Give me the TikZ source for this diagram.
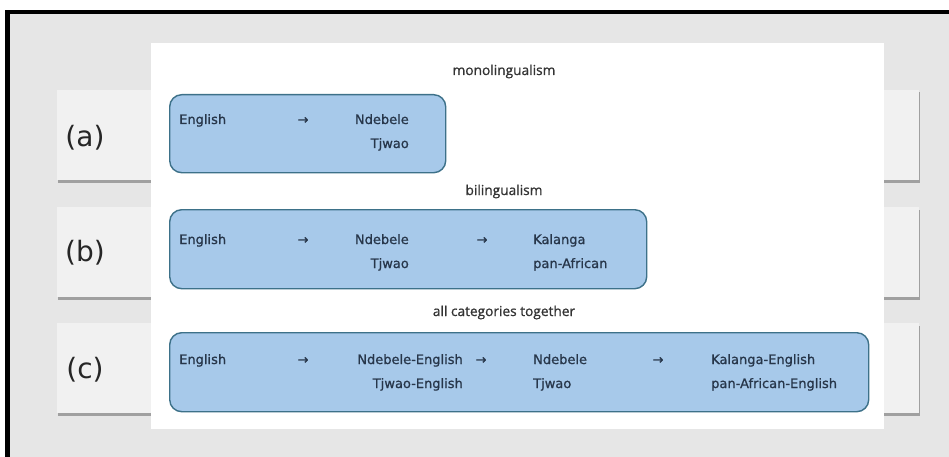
\documentclass[tikz,border=0pt]{standalone}
\usepackage{fontspec}
\setmainfont{DejaVu Sans}
\newfontfamily\langfont{DejaVu Sans}[FakeBold=0.9]
\newfontfamily\titlefont{Open Sans}[FakeBold=0.9]
\usetikzlibrary{calc,shadows}

\definecolor{boxfill}{HTML}{A7C9EA}
\definecolor{boxline}{HTML}{3D7189}
\definecolor{langtext}{HTML}{27364A}
\definecolor{bggray}{HTML}{E6E6E6}
\definecolor{cardgray}{HTML}{F1F1F1}

\tikzset{
  card/.style={fill=cardgray, anchor=north west, inner sep=0pt, outer sep=0pt,
    minimum width=862pt, minimum height=90pt,
    drop shadow={shadow xshift=1pt, shadow yshift=-2.5pt, fill=black, opacity=.3}},
  cardlabel/.style={font=\fontsize{28}{30}\selectfont, text=black!85, inner sep=0pt},
  panel/.style={fill=white, anchor=north west, inner sep=0pt, outer sep=0pt,
    minimum width=733pt, minimum height=386pt},
  langbox/.style={draw=boxline, fill=boxfill, line width=1.4pt, rounded corners=12pt,
    anchor=north west, inner sep=0pt, minimum height=78pt},
  lang/.style={font=\langfont\fontsize{13}{15}\selectfont, text=langtext, inner sep=0pt},
  title/.style={font=\titlefont\fontsize{13.7}{16}\selectfont, text=black!80, inner sep=0pt, anchor=base}
}

\begin{document}
\begin{tikzpicture}[x=1pt,y=-1pt]
\useasboundingbox (0,0) rectangle (949,457);
\fill[white] (0,0) rectangle (949,457);
\fill[black] (5,10) rectangle (949,457);
\fill[bggray] (10,14) rectangle (949,457);

% cards behind the panel
\node[card] (carda) at (57,90) {};
\node[card] (cardb) at (57,207) {};
\node[card] (cardc) at (57,323) {};
\node[cardlabel] (laba) at (85,138) {(a)};
\node[cardlabel] (labb) at (85,253) {(b)};
\node[cardlabel] (labc) at (85,370) {(c)};

\node[panel] (panel) at (151,43) {};

% (a)
\node[title] (titlea) at (504,75) {monolingualism};
\node[langbox, minimum width=276pt] (boxa) at (169,94) {};
\node[lang, anchor=base west] (enga) at (179,124) {English};
\node[lang, anchor=base] (arra) at (303,124) {→};
\node[lang, anchor=base east] (nda) at (409,124) {Ndebele};
\node[lang, anchor=base east] (tja) at (409,148) {Tjwao};

% (b)
\node[title] (titleb) at (504,195) {bilingualism};
\node[langbox, minimum width=477pt, minimum height=79pt] (boxb) at (169,209) {};
\node[lang, anchor=base west] (engb) at (179,244) {English};
\node[lang, anchor=base] (arrb) at (303,244) {→};
\node[lang, anchor=base east] (ndb) at (409,244) {Ndebele};
\node[lang, anchor=base east] (tjb) at (409,268) {Tjwao};
\node[lang, anchor=base] (arrbb) at (482,244) {→};
\node[lang, anchor=base west] (kab) at (533,244) {Kalanga};
\node[lang, anchor=base west] (pab) at (533,268) {pan-African};

% (c)
\node[title] (titlec) at (504,316) {all categories together};
\node[langbox, minimum width=699pt, minimum height=79pt] (boxc) at (169,332) {};
\node[lang, anchor=base west] (engc) at (179,364) {English};
\node[lang, anchor=base] (arrc) at (303,364) {→};
\node[lang, anchor=base east] (ndec) at (463,364) {Ndebele-English};
\node[lang, anchor=base east] (tjec) at (463,388) {Tjwao-English};
\node[lang, anchor=base] (arrcc) at (481,364) {→};
\node[lang, anchor=base west] (ndc) at (533,364) {Ndebele};
\node[lang, anchor=base west] (tjc) at (533,388) {Tjwao};
\node[lang, anchor=base] (arrccc) at (658,364) {→};
\node[lang, anchor=base west] (kaec) at (711,364) {Kalanga-English};
\node[lang, anchor=base west] (paec) at (711,388) {pan-African-English};
\end{tikzpicture}
\end{document}
